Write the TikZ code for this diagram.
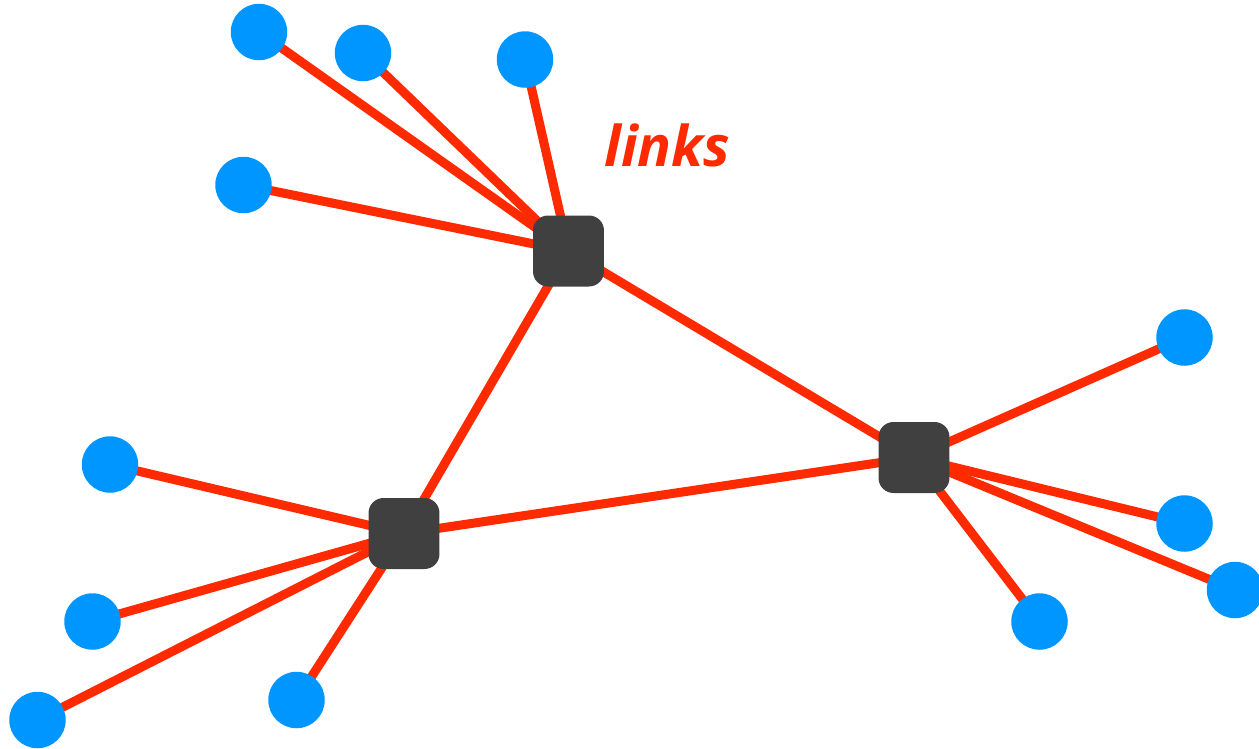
\documentclass[tikz,border=0pt]{standalone}
\usepackage{fontspec}
\newfontfamily\labelfont{Open Sans}
\usetikzlibrary{backgrounds}
\definecolor{linkred}{HTML}{FF2A00}
\definecolor{hostblue}{HTML}{0096FF}
\definecolor{switchgray}{HTML}{404040}
\tikzset{link/.style={draw=linkred,line width=0.18cm},host/.style={circle,fill=hostblue,minimum size=1.13cm,inner sep=0pt},switch/.style={rectangle,rounded corners=0.3cm,fill=switchgray,minimum size=1.42cm,inner sep=0pt}}

\begin{document}
\begin{tikzpicture} [x=0.02cm,y=-0.02cm]
\useasboundingbox (0,0) rectangle (1259,748);

\node (s1) at (568.5,251)[switch]{};
\node (s2) at (404,533.5)[switch]{};
\node (s3) at (914,457.5)[switch]{};

\node (h1) at (259,32)[host]{};
\node (h2) at (363,53)[host]{};
\node (h3) at (525,59.5)[host]{};
\node (h4) at (243.5,185)[host]{};

\node (h5) at (110,464.5)[host]{};
\node (h6) at (92.5,621.5)[host]{};
\node (h7) at (37.5,720)[host]{};
\node (h8) at (296.5,700)[host]{};

\node (h9) at (1184.5,337.5)[host]{};
\node (h10) at (1184.5,523.5)[host]{};
\node (h11) at (1235,590)[host]{};
\node (h12) at (1039.5,621.5)[host]{};

\node (lbl) at (667.5,166)[anchor=base,text=linkred,font=\labelfont\bfseries\itshape\fontsize{32}{38}\selectfont]{links};

\begin{scope}[on background layer]
\draw (s1.center) edge[link] (h1.center) edge[link] (h2.center) edge[link] (h3.center) edge[link] (h4.center)
  edge[link] (s2.center) edge[link] (s3.center);
\draw (s2.center) edge[link] (h5.center) edge[link] (h6.center) edge[link] (h7.center) edge[link] (h8.center)
  edge[link] (s3.center);
\draw (s3.center) edge[link] (h9.center) edge[link] (h10.center) edge[link] (h11.center) edge[link] (h12.center);
\end{scope}
\end{tikzpicture}
\end{document}
